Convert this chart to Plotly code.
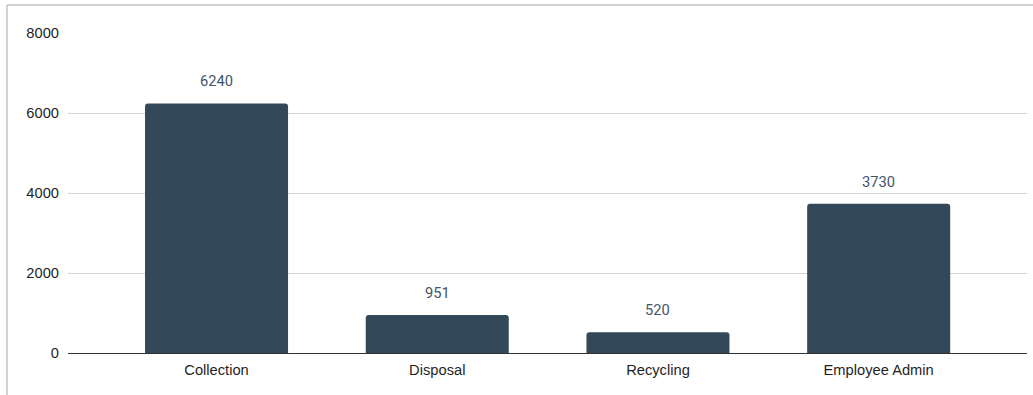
import plotly.graph_objects as go

categories = ["Collection", "Disposal", "Recycling", "Employee Admin"]
values = [6240, 951, 520, 3730]
y_ticks = [0, 2000, 4000, 6000, 8000]

BAR_COLOR = "#33495a"
AXIS_FONT = dict(family="Liberation Sans, Arial", size=14.7, color="#1f1f1f")

fig = go.Figure()
fig.add_trace(go.Bar(
    x=categories,
    y=values,
    marker=dict(color=BAR_COLOR, cornerradius=3, line=dict(width=0)),
    width=0.648,
    hoverinfo="x+y",
))

# value labels floating above each bar
for cat, val in zip(categories, values):
    fig.add_annotation(
        x=cat, y=val, text=str(val), showarrow=False,
        yshift=22, font=dict(family="Roboto", size=14.7, color="#44546a"),
    )

# thin outer frame
fig.add_shape(
    type="rect", xref="paper", yref="paper",
    x0=-0.0636, x1=1.2, y0=-0.3, y1=1.0875,
    line=dict(color="#a6a6a6", width=1), fillcolor="rgba(0,0,0,0)",
    layer="below",
)

fig.update_layout(
    width=1033, height=395,
    margin=dict(l=68, r=6, t=33, b=42),
    paper_bgcolor="white", plot_bgcolor="white",
    showlegend=False,
    font=AXIS_FONT,
    xaxis=dict(
        range=[-0.673, 3.672],
        showgrid=False, showline=False, zeroline=False,
        ticks="", ticklabelstandoff=6,
        tickfont=AXIS_FONT,
    ),
    yaxis=dict(
        range=[0, 8000], tickvals=y_ticks,
        showgrid=True, gridcolor="#d4d4d4", gridwidth=1,
        zeroline=True, zerolinecolor="#333333", zerolinewidth=1,
        showline=False, ticks="", ticklabelstandoff=8,
        tickfont=AXIS_FONT,
    ),
)

fig.write_html("out.html")
